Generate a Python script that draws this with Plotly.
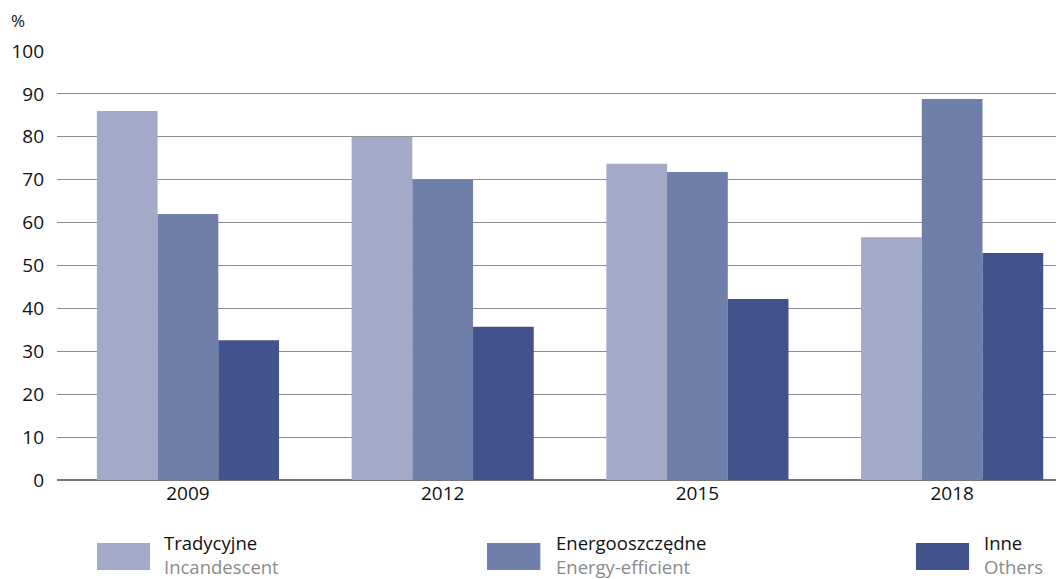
import plotly.graph_objects as go

years = ["2009", "2012", "2015", "2018"]
series_pl = ["Tradycyjne", "Energooszczędne", "Inne"]
series_en = ["Incandescent", "Energy-efficient", "Others"]
tradycyjne = [86.0, 80.0, 73.7, 56.6]
energooszczedne = [62.0, 70.0, 71.8, 88.8]
inne = [32.6, 35.7, 42.2, 52.9]
y_ticks = [0, 10, 20, 30, 40, 50, 60, 70, 80, 90, 100]
colors = ["#A3AAC7", "#707EAA", "#42528B"]

FONT = "Open Sans"
FS = 19
values = [tradycyjne, energooszczedne, inne]

fig = go.Figure()
for name, vals, col in zip(series_pl, values, colors):
    fig.add_trace(go.Bar(x=years, y=vals, name=name, marker=dict(color=col, line=dict(width=0)),
                         showlegend=False))

# custom legend
sq_x = [(0.0397, 0.0924), (0.427, 0.480), (0.853, 0.9057)]
tx_x = [0.1053, 0.4945, 0.9196]
for i in range(3):
    fig.add_shape(type="rect", xref="paper", yref="paper",
                  x0=sq_x[i][0], x1=sq_x[i][1], y0=-0.1469, y1=-0.2098,
                  fillcolor=colors[i], line=dict(width=0))
    fig.add_annotation(xref="paper", yref="paper", x=tx_x[i], y=-0.1748,
                       text=f"{series_pl[i]}<br><span style='color:#8a8a8a'>{series_en[i]}</span>",
                       showarrow=False, xanchor="left", yanchor="middle", align="left",
                       borderpad=0, font=dict(family=FONT, size=18.5, color="#111111"))

fig.add_annotation(xref="paper", yref="paper", x=-0.0387, y=1.072, text="%", showarrow=False,
                   xanchor="center", yanchor="middle", font=dict(family=FONT, size=17, color="#111111"))

fig.update_layout(
    width=1056, height=571,
    margin=dict(l=49, r=0, t=43, b=99),
    paper_bgcolor="white", plot_bgcolor="white",
    barmode="group", bargap=0.285, bargroupgap=0,
    font=dict(family=FONT, size=FS, color="#111111"),
    xaxis=dict(type="category", range=[-0.514, 3.439], showgrid=False, showline=False,
               ticks="", tickfont=dict(size=FS)),
    yaxis=dict(range=[0, 100], tickvals=y_ticks, showgrid=True, gridcolor="#8c8c8c", gridwidth=1,
               zeroline=True, zerolinecolor="#777777", zerolinewidth=1.5, showline=False,
               ticks="", ticklabelstandoff=12, tickfont=dict(size=FS)),
)

fig.write_html("out.html")
